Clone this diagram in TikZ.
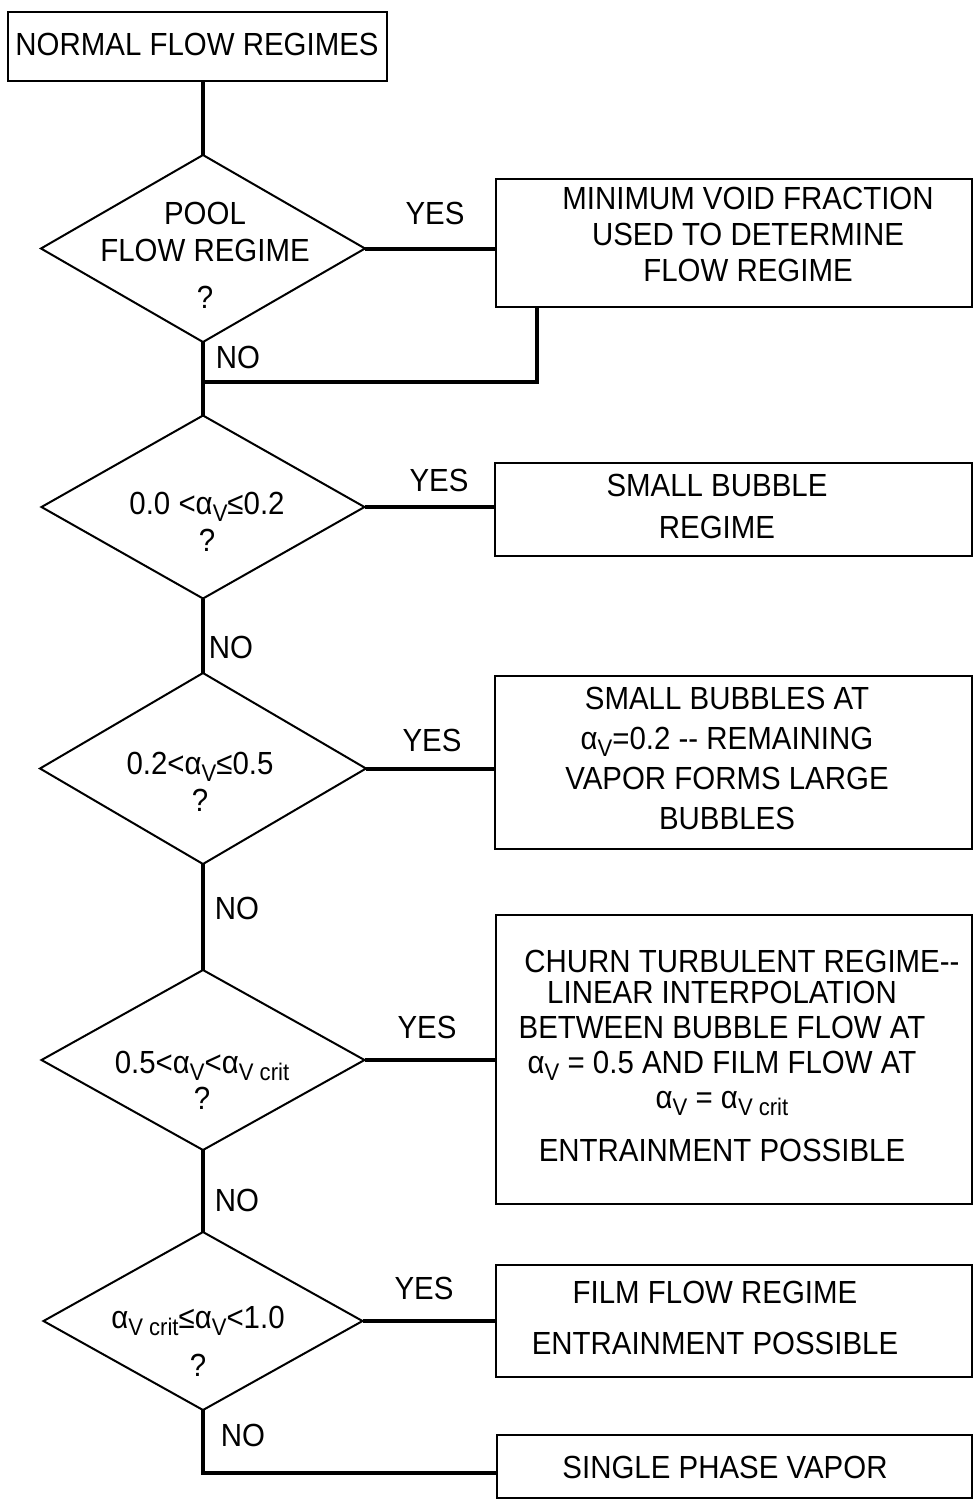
\documentclass[tikz,border=0pt]{standalone}
\usepackage{fontspec}
\setmainfont{Liberation Sans}[FakeStretch=0.92]
\usetikzlibrary{shapes.geometric,fit}
\newcommand{\subv}[1]{\raisebox{-3.5pt}{\fontsize{12}{12}\selectfont #1}}
\newcommand{\av}{α\subv{V}}
\newcommand{\avc}{α\subv{V crit}}
\begin{document}
\begin{tikzpicture}[x=0.5pt,y=-0.5pt,
  font=\fontsize{16}{20}\selectfont,
  box/.style={draw, line width=0.8pt, inner sep=0pt, outer sep=0pt},
  diam/.style={draw, diamond, line width=1pt, inner sep=0pt, outer sep=0pt},
  conn/.style={line width=2pt},
  txt/.style={align=center, inner sep=0pt},
  lab/.style={inner sep=0pt}]
\useasboundingbox (0,0) rectangle (974,1501);

% top box
\node[box, fit={(8,12) (387,81)}] (n0) {};
\node[txt] (n0t) at (197,44) {NORMAL FLOW REGIMES};

% decision diamonds
\node[diam, minimum width=162pt, minimum height=93.5pt] (d1) at (203,248.5) {};
\node[diam, minimum width=161.5pt, minimum height=91.5pt] (d2) at (203,507) {};
\node[diam, minimum width=163pt, minimum height=95.5pt] (d3) at (203,768.5) {};
\node[diam, minimum width=161.5pt, minimum height=90pt] (d4) at (203,1060) {};
\node[diam, minimum width=159.5pt, minimum height=89pt] (d5) at (203,1321) {};

\node[txt, font=\fontsize{16}{18.5}\selectfont] (d1t) at (205,255) {POOL\\FLOW REGIME\\[5pt]?};
\node[txt, font=\fontsize{16}{18.5}\selectfont] (d2t) at (207,522) {0.0 <\av≤0.2\\?};
\node[txt, font=\fontsize{16}{18.5}\selectfont] (d3t) at (200,782) {0.2<\av≤0.5\\?};
\node[txt, font=\fontsize{16}{18}\selectfont] (d4t) at (202,1080) {0.5<\av<\avc\\?};
\node[txt, font=\fontsize{16}{24}\selectfont] (d5t) at (198,1341) {\avc≤\av<1.0\\?};

% result boxes
\node[box, fit={(496,179) (972,307)}] (b1) {};
\node[box, fit={(495,463) (972,556)}] (b2) {};
\node[box, fit={(495,676) (972,849)}] (b3) {};
\node[box, fit={(496,915) (972,1204)}] (b4) {};
\node[box, fit={(496,1265) (972,1377)}] (b5) {};
\node[box, fit={(497,1435) (972,1498)}] (b6) {};

\node[txt, font=\fontsize{16}{18}\selectfont] (b1t) at (748,234) {MINIMUM VOID FRACTION\\USED TO DETERMINE\\FLOW REGIME};
\node[txt, font=\fontsize{16}{21}\selectfont] (b2t) at (717,506) {SMALL BUBBLE\\REGIME};
\node[txt, font=\fontsize{16}{20}\selectfont] (b3t) at (727,758) {SMALL BUBBLES AT\\\av=0.2 -{}- REMAINING\\VAPOR FORMS LARGE\\BUBBLES};
\node[txt, font=\fontsize{16}{17.5}\selectfont] (b4t) at (722,1056) {\hspace*{20pt}CHURN TURBULENT REGIME-{}-\\[-2pt]LINEAR INTERPOLATION\\BETWEEN BUBBLE FLOW AT\\\av{} = 0.5 AND FILM FLOW AT\\\av{} = \avc\\[9pt]ENTRAINMENT POSSIBLE};
\node[txt, font=\fontsize{16}{25.5}\selectfont] (b5t) at (715,1318) {FILM FLOW REGIME\\ENTRAINMENT POSSIBLE};
\node[txt] (b6t) at (725,1467) {SINGLE PHASE VAPOR};

% connectors
\coordinate (j1) at (537,382);
\coordinate (j2) at (203,1473);
\draw[conn] (n0.south -| d1.north) -- (d1.north);
\draw[conn] (d1.east) -- (d1.east -| b1.west);
\draw[conn] (d1.south) -- (d2.north);
\draw[conn] (j1 |- b1.south) -- (j1) -- (j1 -| d1.south);
\draw[conn] (d2.east) -- (d2.east -| b2.west);
\draw[conn] (d2.south) -- (d3.north);
\draw[conn] (d3.east) -- (d3.east -| b3.west);
\draw[conn] (d3.south) -- (d4.north);
\draw[conn] (d4.east) -- (d4.east -| b4.west);
\draw[conn] (d4.south) -- (d5.north);
\draw[conn] (d5.east) -- (d5.east -| b5.west);
\draw[conn] (d5.south) -- (d5.south |- j2) -- (b6.west |- j2);

% labels
\node[lab] (y1) at (435,213) {YES};
\node[lab] (y2) at (439,480) {YES};
\node[lab] (y3) at (432,740) {YES};
\node[lab] (y4) at (427,1027) {YES};
\node[lab] (y5) at (424,1288) {YES};
\node[lab] (no1) at (238,357) {NO};
\node[lab] (no2) at (231,647) {NO};
\node[lab] (no3) at (237,908) {NO};
\node[lab] (no4) at (237,1200) {NO};
\node[lab] (no5) at (243,1435) {NO};
\end{tikzpicture}
\end{document}
